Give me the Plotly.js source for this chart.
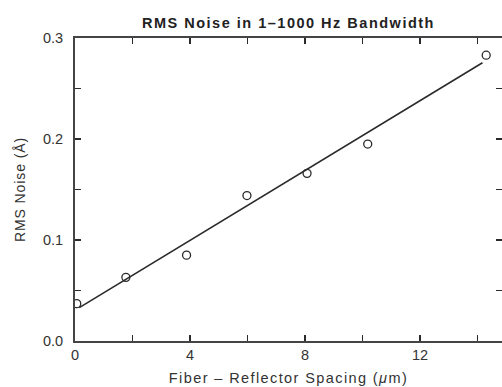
<!DOCTYPE html>
<html>
<head>
<meta charset="utf-8">
<script src="https://cdn.plot.ly/plotly-3.0.1.min.js"></script>
<style>
html,body{margin:0;padding:0;background:#fff;}
#chart{width:502px;height:387px;}
#chart .gtitle{letter-spacing:1.5px;}
#chart .g-xtitle text{letter-spacing:1.4px;}
#chart .g-ytitle text{letter-spacing:0.9px;}
</style>
</head>
<body>
<div id="chart"></div>
<script>
// Measured data points (open circles)
var spacing = [0.06, 1.77, 3.88, 5.98, 8.07, 10.18, 14.3];
var rmsNoise = [0.037, 0.063, 0.085, 0.144, 0.166, 0.195, 0.283];
// Fitted straight line endpoints
var fitX = [0.15, 14.17];
var fitY = [0.033, 0.2755];
// Tick positions and labels
var xTickVals = [0, 2, 4, 6, 8, 10, 12, 14];
var xTickText = ['0', '', '4', '', '8', '', '12', ''];
var yTickVals = [0, 0.05, 0.1, 0.15, 0.2, 0.25, 0.3];
var yTickText = ['0.0', '', '0.1', '', '0.2', '', '0.3'];

var ink = '#2a2a2a';
var fnt = 'Liberation Sans, Arial, sans-serif';

var traces = [
  {x: fitX, y: fitY, mode: 'lines', line: {color: ink, width: 1.6}, hoverinfo: 'skip', showlegend: false},
  {x: spacing, y: rmsNoise, mode: 'markers',
   marker: {symbol: 'circle-open', size: 8, color: ink, line: {width: 1.3, color: ink}}, showlegend: false}
];

var layout = {
  width: 502, height: 387,
  margin: {l: 75, r: 0, t: 38, b: 46},
  paper_bgcolor: '#fff', plot_bgcolor: '#fff',
  font: {family: fnt, color: '#333', size: 14},
  title: {text: 'RMS Noise in 1\u20131000 Hz Bandwidth', font: {family: fnt, size: 14.5, color: '#222', weight: 'bold'},
          x: 0.5, xref: 'paper', y: 23, yref: 'container', yanchor: 'middle'},
  xaxis: {
    range: [0, 14.85], tickvals: xTickVals, ticktext: xTickText,
    ticks: 'inside', ticklen: 6, tickwidth: 1.2, tickcolor: ink,
    showline: true, linecolor: '#444', linewidth: 2, mirror: 'ticks',
    showgrid: false, zeroline: false,
    tickfont: {size: 14.5, color: '#333'},
    title: {text: 'Fiber \u2013 Reflector Spacing (<i>\u03bc</i>m)', font: {size: 14.5, color: '#333'}, standoff: 10}
  },
  yaxis: {
    range: [0, 0.3], tickvals: yTickVals, ticktext: yTickText,
    ticks: 'inside', ticklen: 6, tickwidth: 1.2, tickcolor: ink,
    showline: true, linecolor: '#444', linewidth: 2, mirror: 'ticks',
    showgrid: false, zeroline: false, ticklabelstandoff: 7,
    tickfont: {size: 14.5, color: '#333'},
    title: {text: 'RMS Noise (\u00c5)', font: {size: 14, color: '#333'}, standoff: 14}
  }
};

// fix title y in pixels: convert container px to fraction
layout.title.y = 1 - 23 / 387;

Plotly.newPlot('chart', traces, layout, {displayModeBar: false, staticPlot: true});
</script>
</body>
</html>
